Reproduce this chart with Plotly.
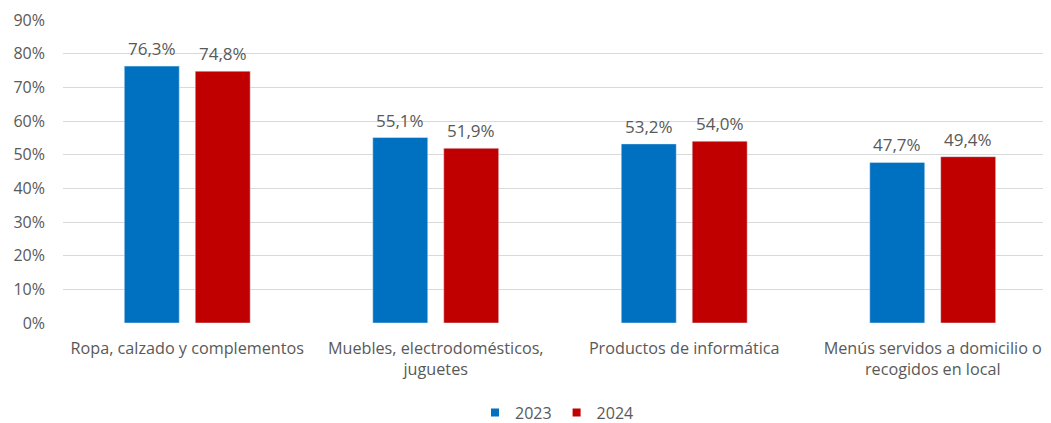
import plotly.graph_objects as go

categories = ["Ropa, calzado y complementos",
              "Muebles, electrodomésticos,<br>juguetes",
              "Productos de informática",
              "Menús servidos a domicilio o<br>recogidos en local"]
series_names = ["2023", "2024"]
values_2023 = [0.763, 0.551, 0.532, 0.477]
values_2024 = [0.748, 0.519, 0.540, 0.494]
y_ticks = [0, 0.1, 0.2, 0.3, 0.4, 0.5, 0.6, 0.7, 0.8, 0.9]

FONT = "Open Sans"
GREY = "#595959"
COLORS = ["#0070C0", "#C00000"]
BARGAP = 0.429

fig = go.Figure()
for name, vals, col in zip(series_names, [values_2023, values_2024], COLORS):
    fig.add_trace(go.Bar(name=name, x=list(range(len(categories))), y=vals,
                         marker_color=col, showlegend=False))
    # legend-only entries with small square swatches
    fig.add_trace(go.Scatter(name=name, x=[None], y=[None], mode="markers",
                             marker=dict(symbol="square", size=8, color=col)))

# data labels as annotations
slot = (1 - BARGAP) / 2
for k, vals in enumerate([values_2023, values_2024]):
    off = (k - 0.5) * slot
    for i, v in enumerate(vals):
        fig.add_annotation(x=i + off, y=v, xref="x", yref="y",
                           text=f"{v*100:.1f}%".replace(".", ","),
                           showarrow=False, yanchor="bottom", yshift=4,
                           font=dict(size=17, color=GREY, family=FONT))

fig.update_layout(
    width=1043, height=415,
    margin=dict(l=55, r=0, t=12, b=100),
    paper_bgcolor="white", plot_bgcolor="white",
    barmode="group", bargap=BARGAP, bargroupgap=0.225,
    font=dict(family=FONT, color=GREY, size=13),
    legend=dict(orientation="h", x=0.5, xref="paper", xanchor="center",
                yref="container", y=0.025, yanchor="middle",
                font=dict(size=16, color=GREY, family=FONT), itemwidth=30, tracegroupgap=0),
    showlegend=True,
)
fig.update_xaxes(range=[-0.5, 3.476], showgrid=False, ticks="", showline=False,
                 tickvals=list(range(len(categories))), ticktext=categories,
                 tickfont=dict(size=16.2, color=GREY, family=FONT), ticklabelstandoff=14,
                 automargin=False)
fig.update_yaxes(range=[0, 0.9], tickvals=y_ticks, tickformat=".0%", showgrid=True,
                 gridcolor="#D9D9D9", gridwidth=1, zeroline=False, showline=False,
                 tickfont=dict(size=16, color=GREY, family=FONT), ticklabelstandoff=17,
                 automargin=False)

fig.write_html("out.html")
